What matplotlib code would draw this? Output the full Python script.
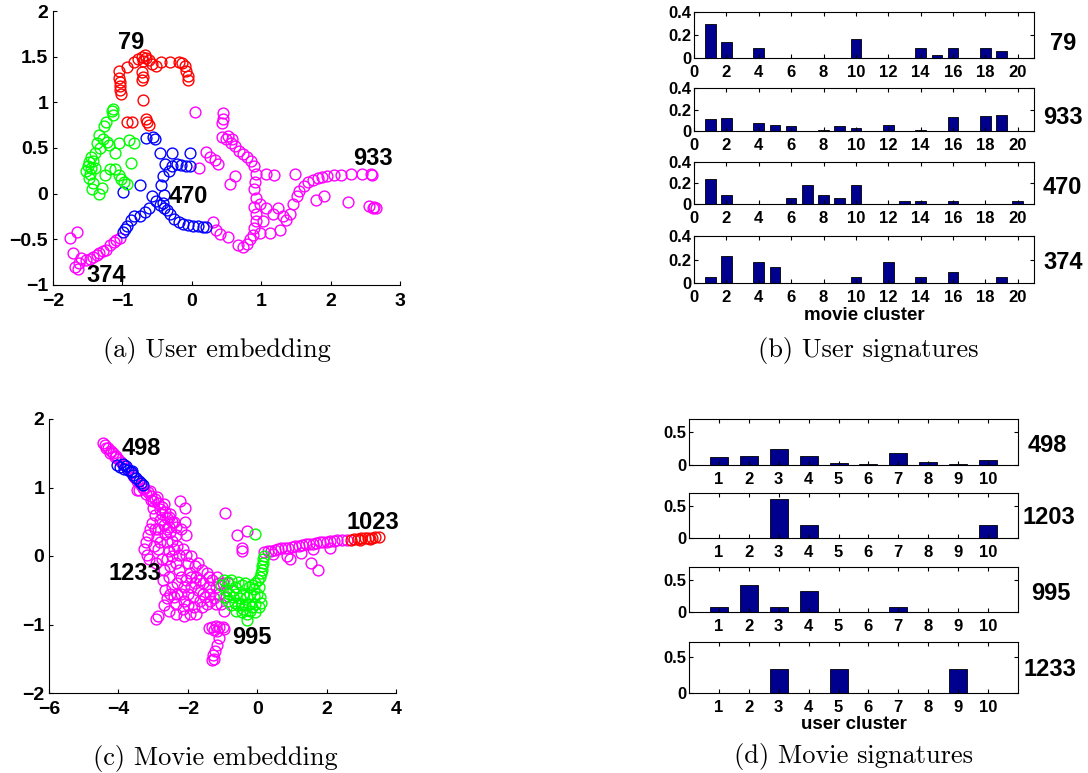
import numpy as np
import matplotlib
matplotlib.use("Agg")
import matplotlib.pyplot as plt
from matplotlib.ticker import FuncFormatter

plt.rcParams['font.family'] = ['Liberation Sans', 'DejaVu Sans']
plt.rcParams['font.weight'] = 'bold'

# ---- (a) user embedding ----
ua_red = [(-1.05,1.34),(-1.05,1.27),(-1.04,1.22),(-1.04,1.18),(-1.03,1.13),(-1.02,1.09),(-0.94,1.39),
          (-0.84,1.44),(-0.77,1.47),(-0.72,1.50),(-0.68,1.52),(-0.66,1.49),(-0.70,1.45),(-0.62,1.46),
          (-0.72,1.33),(-0.71,1.28),(-0.72,1.24),(-0.58,1.42),(-0.52,1.40),(-0.44,1.44),(-0.32,1.44),
          (-0.19,1.44),(-0.14,1.43),(-0.10,1.40),(-0.08,1.34),(-0.06,1.29),(-0.05,1.24),(-0.70,1.03),
          (-0.66,0.82),(-0.64,0.79),(-0.62,0.75),(-0.93,0.79),(-0.86,0.78)]
ua_green = [(-1.14,0.93),(-1.15,0.90),(-1.14,0.86),(-1.23,0.79),(-1.26,0.74),(-1.33,0.64),(-1.28,0.60),
            (-1.22,0.57),(-1.20,0.53),(-1.37,0.55),(-1.32,0.50),(-1.40,0.45),(-1.45,0.40),(-1.48,0.35),
            (-1.50,0.30),(-1.52,0.25),(-1.47,0.22),(-1.45,0.28),(-1.42,0.36),(-1.40,0.28),(-1.48,0.17),
            (-1.43,0.12),(-1.44,0.05),(-1.33,0.00),(-1.30,0.06),(-1.25,0.20),(-1.18,0.27),(-1.10,0.27),
            (-1.05,0.20),(-1.02,0.16),(-0.98,0.13),(-0.93,0.11),(-1.11,0.44),(-0.90,0.59),(-0.84,0.55),
            (-0.87,0.34),(-1.05,0.55)]
ua_blue = [(-0.66,0.61),(-0.56,0.62),(-0.53,0.60),(-0.46,0.44),(-0.29,0.44),(-0.03,0.44),(-0.38,0.33),
           (-0.33,0.25),(-0.28,0.30),(-0.22,0.32),(-0.15,0.31),(-0.08,0.30),(-0.03,0.30),(-0.41,0.19),
           (-0.44,0.09),(-0.75,0.09),(-0.99,0.02),(-0.58,-0.03),(-0.51,-0.08),(-0.46,-0.12),(-0.42,-0.10),
           (-0.40,-0.16),(-0.36,-0.18),(-0.32,-0.22),(-0.25,-0.28),(-0.19,-0.31),(-0.13,-0.33),(-0.06,-0.34),
           (0.02,-0.35),(0.09,-0.35),(0.16,-0.36),(0.21,-0.36),(-0.61,-0.16),(-0.68,-0.20),(-0.75,-0.24),
           (-0.84,-0.25),(-0.88,-0.29),(-0.93,-0.35),(-0.96,-0.39),(-0.99,-0.42),(-0.40,-0.02)]
ua_magenta = [(-1.76,-0.49),(-1.66,-0.42),(-1.71,-0.65),(-1.69,-0.80),(-1.64,-0.83),(-1.62,-0.76),
              (-1.60,-0.70),(-1.52,-0.73),(-1.47,-0.71),(-1.42,-0.69),(-1.37,-0.67),(-1.33,-0.65),
              (-1.28,-0.63),(-1.23,-0.62),(-1.18,-0.56),(-1.12,-0.53),(-1.09,-0.51),(-1.04,-0.49),
              (0.31,-0.31),(0.35,-0.40),(0.40,-0.44),(0.52,-0.47),(0.67,-0.56),(0.74,-0.58),(0.80,-0.55),
              (0.84,-0.50),(0.88,-0.45),(0.90,-0.38),(0.92,-0.30),(0.93,-0.22),(0.90,-0.15),(0.92,-0.05),
              (0.90,0.05),(0.91,0.13),(0.93,0.22),(0.90,0.30),(0.86,0.36),(0.80,0.40),(0.74,0.43),
              (0.68,0.47),(0.62,0.52),(0.56,0.56),(0.50,0.60),(0.44,0.62),(0.52,0.63),(0.58,0.60),
              (0.45,0.88),(0.45,0.82),(0.44,0.77),(0.04,0.89),(0.21,0.46),(0.26,0.40),(0.33,0.37),
              (0.38,0.33),(0.11,0.28),(0.55,0.11),(0.62,0.19),(1.07,0.22),(1.19,0.20),(0.98,-0.11),
              (1.07,-0.16),(1.17,-0.22),(1.24,-0.16),(1.31,-0.25),(1.27,-0.40),(1.12,-0.43),(0.98,-0.43),
              (1.02,-0.30),(1.36,-0.29),(1.41,-0.22),(1.46,-0.11),(1.51,-0.03),(1.55,0.03),(1.62,0.08),
              (1.68,0.13),(1.75,0.15),(1.82,0.17),(1.88,0.18),(1.95,0.19),(2.05,0.20),(2.15,0.20),
              (2.30,0.21),(2.45,0.21),(2.58,0.21),(2.60,0.20),(1.48,0.21),(1.79,-0.07),(1.91,-0.03),
              (2.25,-0.09),(2.56,-0.14),(2.61,-0.16),(2.66,-0.16),(2.63,-0.15)]
ua_labels = ["79", "933", "470", "374"]
ua_label_pos = [(-0.87,1.65),(2.61,0.39),(-0.05,-0.03),(-1.24,-0.90)]

# ---- (c) movie embedding ----
mc_magenta = [(-4.45,1.65),(-4.38,1.62),(-4.30,1.58),(-4.22,1.54),(-4.15,1.50),(-4.08,1.46),(-4.00,1.42),
              (-3.92,1.37),(-3.85,1.33),(-3.75,1.28),(-3.65,1.22),(-3.55,1.16),(-3.45,1.10),(-3.35,1.04),
              (-3.25,0.98),(-3.15,0.93),(-3.05,0.88),(-2.95,0.83),(-2.85,0.77),(-2.75,0.71),(-2.65,0.64),
              (-2.55,0.57),(-2.45,0.50),(-2.35,0.42),(-3.40,0.97),(-3.30,1.00),(-3.10,0.95),(-2.90,0.86),
              (-2.70,0.76),(-2.50,0.62),(-4.35,1.58),(-4.10,1.44),(-4.25,1.50),(-3.20,0.90),(-3.00,0.80),
              (-2.80,0.68),(-2.60,0.55),(-3.45,0.96),
              (-2.22,0.80),(-2.08,0.70),(-2.08,0.50),(-2.05,0.30),(-2.05,0.02),
              (-3.05,0.82),(-3.00,0.70),(-2.95,0.60),(-3.02,0.48),(-3.10,0.40),(-3.15,0.30),(-3.20,0.20),
              (-3.25,0.10),(-3.18,0.02),(-3.12,-0.05),(-2.98,0.15),(-2.90,0.28),(-2.85,0.40),(-2.80,0.52),
              (-2.75,0.62),(-2.70,0.45),(-2.65,0.32),(-2.60,0.20),(-2.55,0.08),(-2.50,0.35),(-2.45,0.22),
              (-2.40,0.10),(-2.35,0.30),(-2.30,0.15),(-2.25,0.02),(-2.20,0.40),(-2.40,0.50),(-2.55,0.42),
              (-2.85,0.10),(-2.75,-0.05),(-2.92,-0.10),(-2.70,-0.20),(-2.72,-0.35),(-2.65,-0.50),
              (-2.60,-0.62),(-2.68,-0.72),(-2.85,-0.88),(-2.92,-0.92),(-2.55,-0.30),(-2.50,-0.15),
              (-2.45,-0.45),(-2.40,-0.60),(-2.35,-0.70),(-2.30,-0.40),(-2.25,-0.20),(-2.20,-0.55),
              (-2.15,-0.78),(-2.10,-0.88),(-2.10,-0.65),(-2.05,-0.35),(-2.00,-0.10),(-1.95,-0.25),
              (-1.90,-0.45),(-1.85,-0.60),(-1.82,-0.75),(-1.80,-0.15),(-1.75,-0.30),(-1.70,-0.50),
              (-1.65,-0.65),(-1.60,-0.20),(-1.55,-0.40),(-1.50,-0.60),(-1.45,-0.70),(-1.45,-0.25),
              (-1.40,-0.45),(-1.35,-0.55),(-1.30,-0.35),(-1.25,-0.62),(-1.20,-0.45),(-1.15,-0.30),
              (-1.10,-0.55),(-1.05,-0.70),(-0.95,-0.80),(-0.90,-0.60),(-0.85,-0.40),(-1.00,-0.40),
              (-1.70,-0.10),(-1.90,0.00),(-2.15,0.10),(-2.00,-0.72),(-1.75,-0.85),(-2.35,-0.85),(-2.55,-0.80),
              (-2.60,0.40),(-2.45,0.00),(-2.35,-0.10),(-2.20,-0.30),(-2.10,-0.45),(-2.00,-0.55),
              (-1.90,-0.30),(-1.80,-0.40),(-1.65,-0.35),(-1.55,-0.55),(-1.35,-0.65),(-1.20,-0.70),
              (-1.10,-0.40),(-2.30,-0.55),(-2.50,-0.55),(-2.60,-0.05),(-2.80,0.20),(-2.95,0.40),
              (-1.95,-0.85),(-1.60,-0.75),(-1.40,-0.30),
              (-1.40,-1.05),(-1.30,-1.03),(-1.20,-1.02),(-1.10,-1.03),(-1.00,-1.04),(-0.95,-1.06),
              (-1.15,-1.10),(-1.25,-1.08),(-1.10,-1.20),(-1.15,-1.30),(-1.22,-1.38),(-1.28,-1.45),
              (-1.30,-1.52),(-1.25,-1.50),
              (-0.93,0.63),(-0.59,0.31),(-0.30,0.36),(-0.45,0.11),(-0.43,0.08),
              (0.20,0.06),(0.30,0.08),(0.40,0.08),(0.50,0.09),(0.60,0.10),(0.70,0.11),(0.80,0.12),
              (0.90,0.12),(1.00,0.13),(1.10,0.14),(1.20,0.15),(1.30,0.16),(1.40,0.17),(1.50,0.18),
              (1.60,0.18),(1.70,0.19),(1.80,0.20),(1.90,0.20),(2.00,0.21),(2.10,0.22),(2.20,0.22),
              (2.30,0.23),(2.45,0.23),(2.60,0.24),(0.45,0.03),(0.85,0.00),(0.95,-0.05),(1.55,-0.10),
              (1.75,-0.21),(2.10,0.12),(1.25,0.05),(1.60,0.10)]
mc_red = [(2.70,0.24),(2.80,0.25),(2.90,0.25),(3.00,0.26),(3.10,0.26),(3.20,0.27),(3.30,0.27),
          (3.40,0.28),(3.50,0.28),(2.95,0.23),(3.25,0.25)]
mc_blue = [(-4.05,1.33),(-3.95,1.30),(-3.85,1.27),(-3.78,1.32),(-3.72,1.25),(-3.65,1.22),(-3.58,1.18),
           (-3.50,1.14),(-3.42,1.10),(-3.35,1.07),(-3.30,1.04),(-3.88,1.35),(-3.60,1.24)]
mc_green = [(-0.06,0.32),(0.20,0.00),(0.18,-0.05),(0.17,-0.10),(0.15,-0.15),(0.14,-0.20),(0.12,-0.25),
            (0.08,-0.30),(0.02,-0.35),(-0.05,-0.40),(-0.15,-0.42),(-0.25,-0.45),(-0.35,-0.40),(-0.45,-0.42),
            (-0.55,-0.38),(-0.65,-0.45),(-0.75,-0.35),(-0.85,-0.38),(-0.95,-0.35),(-1.05,-0.42),(-0.90,-0.50),
            (-0.80,-0.55),(-0.70,-0.60),(-0.60,-0.55),(-0.50,-0.62),(-0.40,-0.55),(-0.30,-0.60),(-0.20,-0.55),
            (-0.10,-0.58),(0.00,-0.55),(0.08,-0.60),(0.10,-0.68),(0.05,-0.75),(-0.05,-0.70),(-0.15,-0.75),
            (-0.25,-0.70),(-0.35,-0.72),(-0.45,-0.70),(-0.55,-0.72),(-0.65,-0.68),(-0.75,-0.72),(-0.85,-0.65),
            (-0.60,-0.80),(-0.45,-0.82),(-0.30,-0.85),(-0.20,-0.80),(-0.05,-0.82),(-0.30,-0.93),(-0.40,-0.78),
            (-0.95,-0.60),(-0.70,-0.50),(-0.10,-0.48),(0.05,-0.45)]
mc_labels = ["498", "1023", "1233", "995"]
mc_label_pos = [(-3.33,1.57),(3.34,0.49),(-3.53,-0.26),(-0.16,-1.19)]

# ---- (b) user signatures over 20 movie clusters ----
movie_clusters = list(range(1, 21))
user_ids = ["79", "933", "470", "374"]
user_sig = [
    [0.30,0.14,0,0.085,0,0,0,0,0,0.165,0,0,0,0.085,0.03,0.085,0,0.085,0.06,0],
    [0.11,0.125,0,0.072,0.056,0.042,0,0.01,0.05,0.032,0,0.056,0,0.01,0,0.133,0,0.142,0.148,0],
    [0.238,0.089,0,0,0,0.057,0.178,0.089,0.057,0.178,0,0,0.025,0.025,0,0.025,0,0,0,0.025],
    [0.048,0.23,0,0.182,0.14,0,0,0,0,0.048,0,0.182,0,0.048,0,0.09,0,0,0.048,0],
]

# ---- (d) movie signatures over 10 user clusters ----
user_clusters = list(range(1, 11))
movie_ids = ["498", "1203", "995", "1233"]
movie_sig = [
    [0.117,0.143,0.245,0.143,0.026,0.015,0.189,0.051,0.01,0.071],
    [0,0,0.6,0.2,0,0,0,0,0,0.2],
    [0.083,0.417,0.083,0.333,0,0,0.083,0,0,0],
    [0,0,0.333,0,0.333,0,0,0,0.333,0],
]

W, H = 1088, 773
BAR_COLOR = (0, 0, 0.56)

def box(l, t, r, b):
    # pixel box -> figure fraction
    return [l/W, 1-b/H, (r-l)/W, (b-t)/H]

fmt = FuncFormatter(lambda v, p: ('%g' % v).replace('-', '\u2212'))

fig = plt.figure(figsize=(W/100, H/100), dpi=100)

def scatter_panel(rect, groups, xlim, ylim, xticks, yticks, labels, label_pos):
    ax = fig.add_axes(rect)
    for pts, col in groups:
        pts = np.array(pts)
        ax.plot(pts[:, 0], pts[:, 1], 'o', mfc='none', mec=col, ms=7.8, mew=1.0)
    for lab, (x, y) in zip(labels, label_pos):
        ax.text(x, y, lab, fontsize=17, ha='center', va='center', fontweight='bold')
    ax.set_xlim(xlim)
    ax.set_ylim(ylim)
    ax.set_xticks(xticks)
    ax.set_yticks(yticks)
    ax.xaxis.set_major_formatter(fmt)
    ax.yaxis.set_major_formatter(fmt)
    ax.spines['top'].set_visible(False)
    ax.spines['right'].set_visible(False)
    ax.tick_params(direction='in', length=3, labelsize=14, width=0.8)
    ax.tick_params(axis='x', pad=6)
    return ax

scatter_panel(box(53, 11, 400, 285),
              [(ua_magenta, 'magenta'), (ua_blue, 'blue'), (ua_green, 'lime'), (ua_red, 'red')],
              (-2, 3), (-1, 2), range(-2, 4), np.arange(-1, 2.01, 0.5), ua_labels, ua_label_pos)

scatter_panel(box(49, 419, 396, 693),
              [(mc_magenta, 'magenta'), (mc_green, 'lime'), (mc_blue, 'blue'), (mc_red, 'red')],
              (-6, 4), (-2, 2), range(-6, 5, 2), range(-2, 3), mc_labels, mc_label_pos)

def bar_panel(rect, xs, vals, width, xlim, ylim, xticks, yticks, name, name_xy):
    ax = fig.add_axes(rect)
    ax.bar(xs, vals, width=width, color=BAR_COLOR, edgecolor='black', linewidth=0.6)
    ax.set_xlim(xlim)
    ax.set_ylim(ylim)
    ax.set_xticks(xticks)
    ax.set_yticks(yticks)
    ax.yaxis.set_major_formatter(fmt)
    ax.tick_params(direction='in', length=3, labelsize=12, width=0.8,
                   top=True, right=True, pad=2)
    ax.tick_params(axis='x', pad=5)
    fig.text(name_xy[0]/W, 1-name_xy[1]/H, name, fontsize=17, fontweight='bold',
             ha='center', va='center')
    return ax

b_boxes = [(694, 12, 1034, 58), (694, 88, 1034, 131), (694, 162, 1034, 204), (694, 236, 1034, 283)]
b_name_xy = [(1063, 43), (1063, 117), (1062, 187), (1063, 262)]
for i in range(4):
    ax = bar_panel(box(*b_boxes[i]), movie_clusters, user_sig[i], 0.66, (0, 21), (0, 0.4),
                   range(0, 21, 2), [0, 0.2, 0.4], user_ids[i], b_name_xy[i])
ax.set_xlabel("movie cluster", fontsize=13.5, fontweight='bold', labelpad=1.5)

d_boxes = [(689, 419, 1018, 465), (689, 493, 1018, 538), (689, 567, 1018, 612), (689, 642, 1018, 693)]
d_name_xy = [(1047, 446), (1049, 518), (1051, 593), (1050, 669)]
for i in range(4):
    ax = bar_panel(box(*d_boxes[i]), user_clusters, movie_sig[i], 0.6, (0, 11), (0, 0.7),
                   user_clusters, [0, 0.5], movie_ids[i], d_name_xy[i])
ax.set_xlabel("user cluster", fontsize=13.5, fontweight='bold', labelpad=0.5)

captions = ["(a) User embedding", "(b) User signatures", "(c) Movie embedding", "(d) Movie signatures"]
cap_xy = [(217, 350), (868, 350), (215, 758), (854, 757)]
for cap, (x, y) in zip(captions, cap_xy):
    fig.text(x/W, 1-y/H, cap, fontsize=19, family='cmr10', fontweight='normal',
             ha='center', va='center')

fig.savefig("out.png", dpi=100)
